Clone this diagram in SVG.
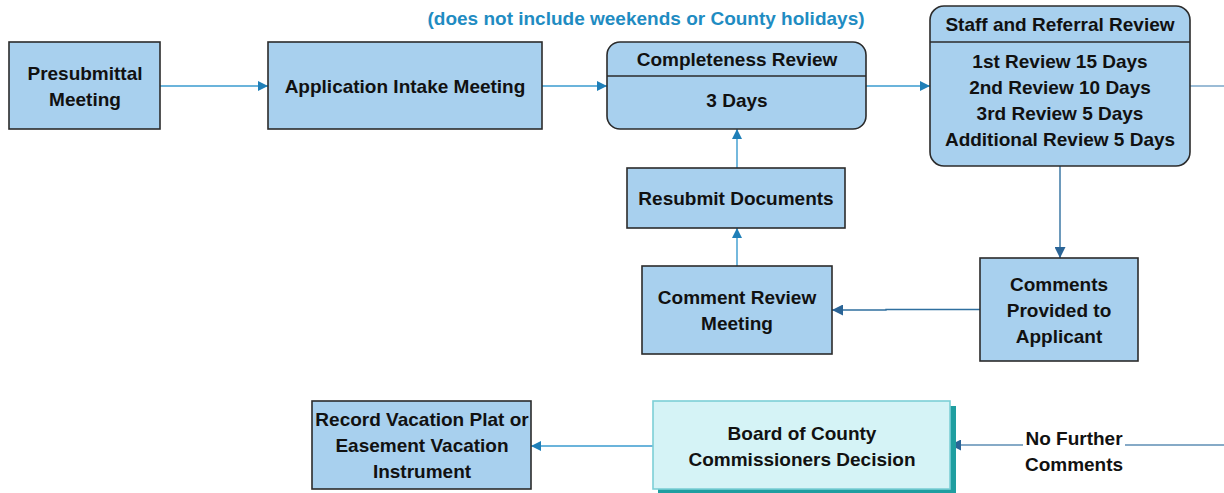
<svg xmlns="http://www.w3.org/2000/svg" width="1224" height="493" viewBox="0 0 1224 493">
<defs>
<style>
.box{fill:#a8d0ee;stroke:#2b2b2b;stroke-width:1.6}
.bcc{fill:#d5f3f6;stroke:#7ccfd6;stroke-width:1.6}
.t{font-family:"Liberation Sans",Arial,sans-serif;font-weight:bold;font-size:19px;fill:#111;text-anchor:middle}
.note{font-family:"Liberation Sans",Arial,sans-serif;font-weight:bold;font-size:19px;fill:#1f8cc2;text-anchor:middle}
.c{fill:none;stroke:#3a9bcf;stroke-width:1.4}
.cd{fill:none;stroke:#2f6f9f;stroke-width:1.4}
</style>
<marker id="a" viewBox="0 0 10 10" refX="10" refY="5" markerWidth="10" markerHeight="10" markerUnits="userSpaceOnUse" orient="auto">
<path d="M0,0 L10,5 L0,10 z" fill="#1f7fb8"/>
</marker>
<marker id="ad" viewBox="0 0 10 10" refX="10" refY="5" markerWidth="11" markerHeight="11" markerUnits="userSpaceOnUse" orient="auto">
<path d="M0,0 L10,5 L0,10 z" fill="#2a6496"/>
</marker>
</defs>
<rect width="1224" height="493" fill="#ffffff"/>
<text class="note" x="646" y="25">(does not include weekends or County holidays)</text>

<g id="connectors">
<path class="c" d="M160,86 H268" marker-end="url(#a)"/>
<path class="c" d="M542,86 H607" marker-end="url(#a)"/>
<path class="c" d="M866,86 H930" marker-end="url(#a)"/>
<path class="cd" d="M1190,86 H1224" style="stroke:#7aa6c8"/>
<path class="cd" d="M1060,166 V258" marker-end="url(#ad)"/>
<path class="cd" d="M980,309.5 H886 V310 H832" marker-end="url(#ad)"/>
<path class="c" d="M737,266 V228" marker-end="url(#a)"/>
<path class="c" d="M737,168 V129" marker-end="url(#a)"/>
<path class="cd" d="M1224,445 H1125 M1023,445 H950" marker-end="url(#ad)" style="stroke:#5f8fb5"/>
<path class="c" d="M653,446 H531" marker-end="url(#a)"/>
</g>

<g id="presubmittal">
<rect class="box" x="9" y="42" width="151" height="87"/>
<text class="t" x="85" y="80">Presubmittal</text>
<text class="t" x="85" y="106">Meeting</text>
</g>

<g id="intake">
<rect class="box" x="268" y="42" width="274" height="87"/>
<text class="t" x="405" y="93">Application Intake Meeting</text>
</g>

<g id="completeness">
<rect class="box" x="607" y="42" width="259" height="87" rx="13"/>
<line x1="607" y1="76" x2="866" y2="76" stroke="#2b2b2b" stroke-width="1.6"/>
<text class="t" x="737" y="66">Completeness Review</text>
<text class="t" x="737" y="107">3 Days</text>
</g>

<g id="staff">
<rect class="box" x="930" y="6" width="260" height="160" rx="14"/>
<line x1="930" y1="42" x2="1190" y2="42" stroke="#2b2b2b" stroke-width="1.6"/>
<text class="t" x="1060" y="31">Staff and Referral Review</text>
<text class="t" x="1060" y="68">1st Review 15 Days</text>
<text class="t" x="1060" y="94">2nd Review 10 Days</text>
<text class="t" x="1060" y="120">3rd Review 5 Days</text>
<text class="t" x="1060" y="146">Additional Review 5 Days</text>
</g>

<g id="resubmit">
<rect class="box" x="627" y="168" width="218" height="60"/>
<text class="t" x="736" y="205">Resubmit Documents</text>
</g>

<g id="comment-review">
<rect class="box" x="642" y="266" width="190" height="88"/>
<text class="t" x="737" y="304">Comment Review</text>
<text class="t" x="737" y="330">Meeting</text>
</g>

<g id="comments-provided">
<rect class="box" x="980" y="258" width="158" height="103"/>
<text class="t" x="1059" y="291">Comments</text>
<text class="t" x="1059" y="317">Provided to</text>
<text class="t" x="1059" y="343">Applicant</text>
</g>

<g id="record">
<rect class="box" x="312" y="401" width="219" height="88"/>
<text class="t" x="422" y="426">Record Vacation Plat or</text>
<text class="t" x="422" y="452">Easement Vacation</text>
<text class="t" x="422" y="478">Instrument</text>
</g>

<g id="board">
<rect x="658" y="406" width="298" height="88" fill="#1f9ea0"/>
<rect class="bcc" x="653" y="401" width="297" height="88"/>
<text class="t" x="802" y="440">Board of County</text>
<text class="t" x="802" y="466">Commissioners Decision</text>
</g>

<g id="label-no-further">
<text class="t" x="1074" y="445">No Further</text>
<text class="t" x="1074" y="471">Comments</text>
</g>
</svg>
